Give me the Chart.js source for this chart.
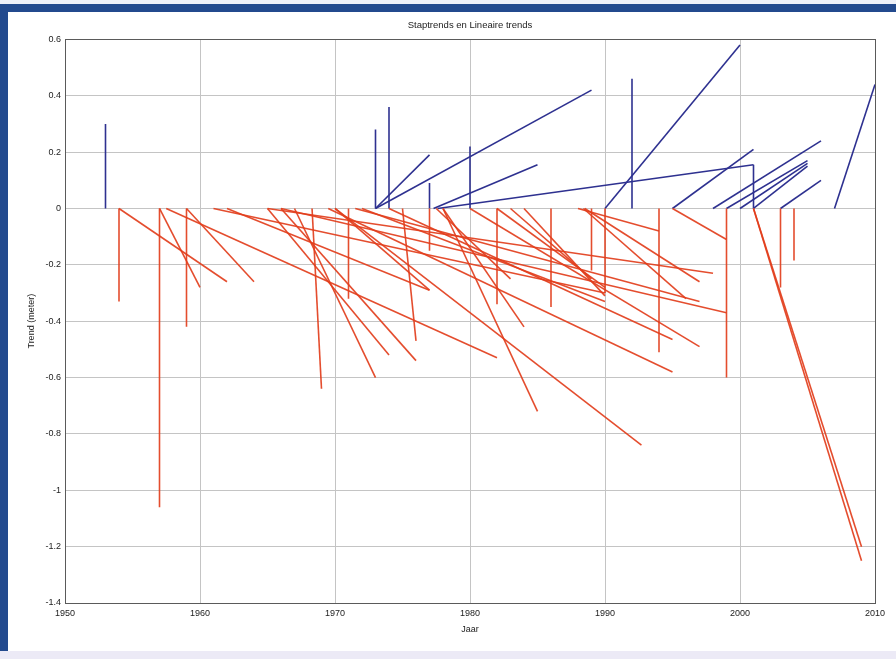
<!DOCTYPE html>
<html>
<head>
<meta charset="utf-8">
<script src="https://cdn.jsdelivr.net/npm/chart.js@4"></script>
<style>
  html, body { margin: 0; padding: 0; background: #fff; }
  #page { position: relative; width: 896px; height: 659px; overflow: hidden; background: #fff; }
  #strip-top { position: absolute; left: 0; top: 0; width: 896px; height: 4px; background: #eef0f8; }
  #frame { position: absolute; left: 0; top: 4px; width: 896px; height: 647px;
           border-top: 8px solid #234a8e; border-left: 8px solid #234a8e; box-sizing: border-box; }
  #strip-bottom { position: absolute; left: 0; top: 651px; width: 896px; height: 8px; background: #eceaf6; }
  #wrap { position: absolute; left: 0; top: 0; width: 896px; height: 659px; }
</style>
</head>
<body>
<div id="page">
  <div id="strip-top"></div>
  <div id="frame"></div>
  <div id="strip-bottom"></div>
  <div id="wrap"><canvas id="chart" width="896" height="659"></canvas></div>
</div>
<script>
// step trends (vertical jumps from 0)
const redStepYears  = [1954, 1957, 1959, 1971, 1977, 1982, 1986, 1989, 1990, 1994, 1999, 2003, 2004];
const redStepValues = [-0.33, -1.06, -0.42, -0.32, -0.15, -0.34, -0.35, -0.22, -0.30, -0.51, -0.60, -0.28, -0.185];

const blueStepYears  = [1953, 1973, 1974, 1977, 1980, 1992, 2001];
const blueStepValues = [0.30, 0.28, 0.36, 0.09, 0.22, 0.46, 0.155];

// linear trends: from (start, 0) to (end, value)
const redTrendStart = [1954, 1957, 1957.5, 1959, 1961, 1962, 1965, 1965, 1966, 1967, 1968.3, 1966,
                       1970, 1969.5, 1971.5, 1974, 1975, 1978, 1978, 1980, 1982, 1988.4, 1988.5,
                       1988, 1995, 2001, 2001, 1977.5, 1970, 1983, 1984, 1972];
const redTrendEnd   = [1962, 1960, 1982, 1964, 1990, 1977, 1974, 1998, 1999, 1973, 1969, 1976,
                       1992.7, 1995, 1997, 1995, 1976, 1985, 1984, 1997, 1990, 1996, 1997,
                       1994, 1999, 2009, 2009, 1983, 1977, 1989, 1990, 1990];
const redTrendValues = [-0.26, -0.28, -0.53, -0.26, -0.30, -0.29, -0.52, -0.23, -0.37, -0.60, -0.64, -0.54,
                        -0.84, -0.58, -0.33, -0.465, -0.47, -0.72, -0.42, -0.49, -0.28, -0.32, -0.26,
                        -0.08, -0.11, -1.20, -1.25, -0.25, -0.29, -0.25, -0.31, -0.33];

const blueTrendStart  = [1973, 1973, 1977.3, 1977.6, 1990, 1995, 1998, 1999, 2000, 2001, 2003, 2007];
const blueTrendEnd    = [1977, 1989, 1985, 2001, 2000, 2001, 2006, 2005, 2005, 2005, 2006, 2010];
const blueTrendValues = [0.19, 0.42, 0.155, 0.155, 0.58, 0.21, 0.24, 0.17, 0.16, 0.15, 0.10, 0.44];

const xTicks = [1950, 1960, 1970, 1980, 1990, 2000, 2010];
const yTicks = [-1.4, -1.2, -1, -0.8, -0.6, -0.4, -0.2, 0, 0.2, 0.4, 0.6];

const RED = 'rgba(226,62,28,0.92)';
const BLUE = '#2e3190';

function segment(x0, x1, v, color) {
    return {
        data: [{ x: x0, y: 0 }, { x: x1, y: v }],
        borderColor: color,
        borderWidth: 1.6,
        showLine: true,
        pointRadius: 0,
        pointHoverRadius: 0,
        fill: false
    };
}

const datasets = [];
redStepYears.forEach((yr, i) => datasets.push(segment(yr, yr, redStepValues[i], RED)));
redTrendStart.forEach((s, i) => datasets.push(segment(s, redTrendEnd[i], redTrendValues[i], RED)));
blueStepYears.forEach((yr, i) => datasets.push(segment(yr, yr, blueStepValues[i], BLUE)));
blueTrendStart.forEach((s, i) => datasets.push(segment(s, blueTrendEnd[i], blueTrendValues[i], BLUE)));

const axesBox = {
    id: 'axesBox',
    afterDraw(chart) {
        const { ctx, chartArea: a } = chart;
        ctx.save();
        ctx.strokeStyle = '#5a5a5a';
        ctx.lineWidth = 1;
        ctx.strokeRect(Math.round(a.left) + 0.5, Math.round(a.top) + 0.5,
                       Math.round(a.right - a.left), Math.round(a.bottom - a.top));
        ctx.restore();
    }
};

const fontFam = '"Liberation Sans", Arial, sans-serif';
const tickFmt = v => String(Number(v.toFixed(1)));

new Chart(document.getElementById('chart'), {
    type: 'scatter',
    data: { datasets },
    plugins: [axesBox],
    options: {
        responsive: false,
        animation: false,
        events: [],
        layout: { padding: { left: 0, right: 21, top: 0, bottom: 24 } },
        plugins: {
            legend: { display: false },
            tooltip: { enabled: false },
            title: {
                display: true,
                text: 'Staptrends en Lineaire trends',
                fullSize: false,
                color: '#222',
                font: { family: fontFam, size: 9.5, weight: 'normal' },
                padding: { top: 20, bottom: 8 }
            }
        },
        scales: {
            x: {
                type: 'linear',
                min: 1950,
                max: 2010,
                afterBuildTicks: s => { s.ticks = xTicks.map(v => ({ value: v })); },
                afterFit: s => { s.height = 32; },
                ticks: { color: '#222', font: { family: fontFam, size: 9 }, padding: 5, maxRotation: 0,
                         callback: v => String(v) },
                grid: { color: '#c4c4c4', drawTicks: false },
                border: { display: false },
                title: { display: true, text: 'Jaar', color: '#222',
                         font: { family: fontFam, size: 9 }, padding: { top: 0, bottom: 0 } }
            },
            y: {
                type: 'linear',
                min: -1.4,
                max: 0.6,
                afterBuildTicks: s => { s.ticks = yTicks.map(v => ({ value: v })); },
                afterFit: s => { s.width = 65; },
                ticks: { color: '#222', font: { family: fontFam, size: 9 }, padding: 4,
                         callback: tickFmt },
                grid: { color: '#c4c4c4', drawTicks: false },
                border: { display: false },
                title: { display: true, text: 'Trend (meter)', color: '#222',
                         font: { family: fontFam, size: 9 }, padding: { top: 26, bottom: 0 } }
            }
        }
    }
});
</script>
</body>
</html>
